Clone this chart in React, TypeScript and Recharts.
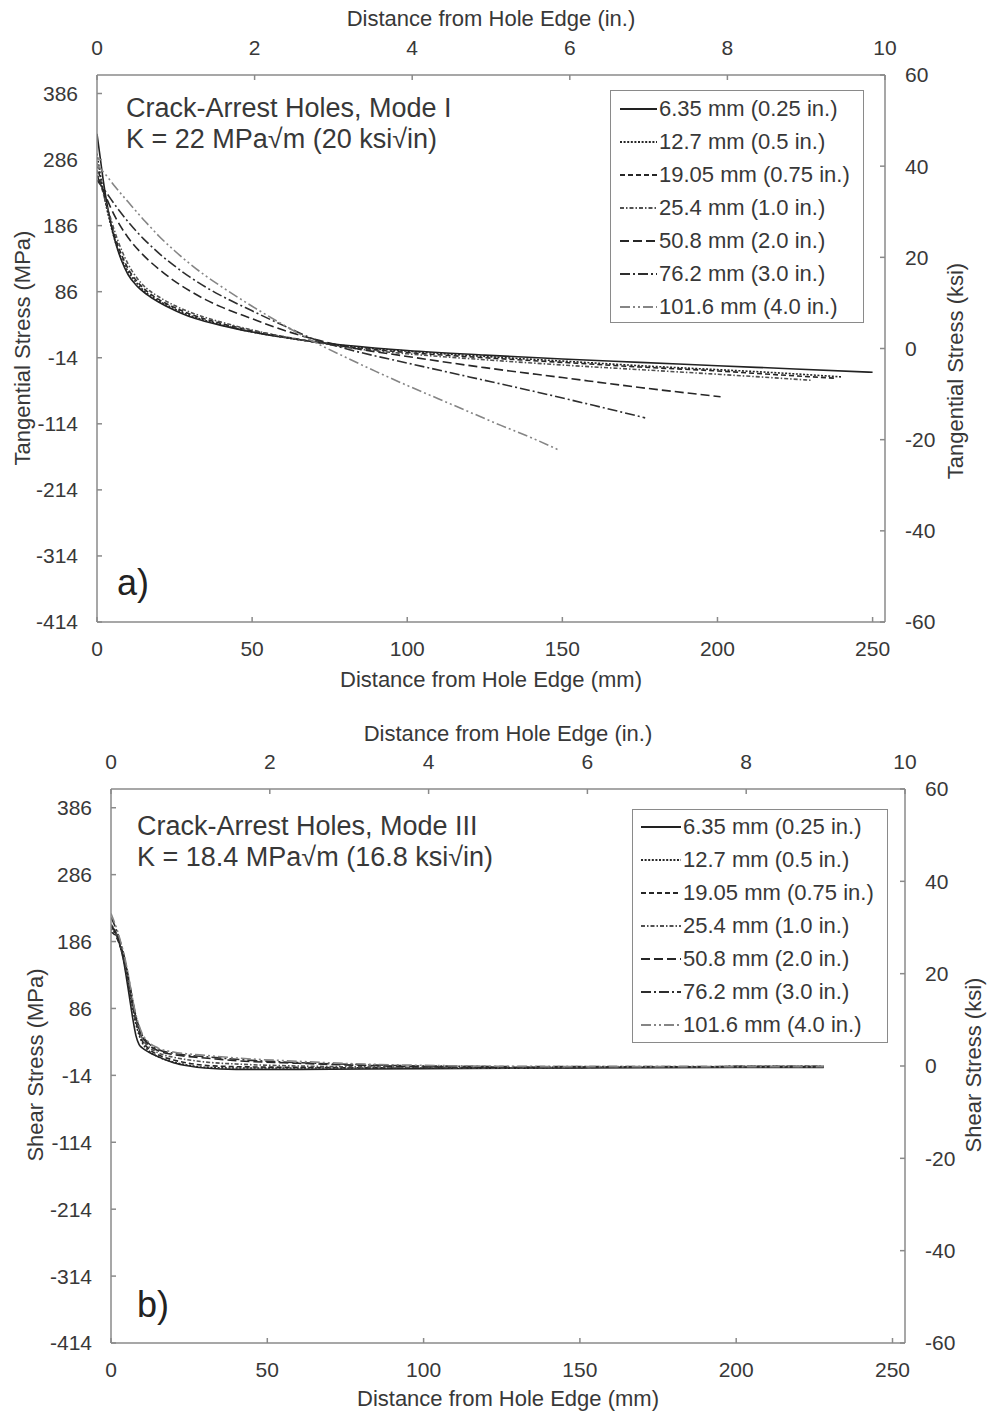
import React from 'react';
import { LineChart, Line, XAxis, YAxis, Legend, Customized } from 'recharts';

const FONT = '"Liberation Sans", Arial, Helvetica, sans-serif';
const AXIS = '#8a8a8a';
const TXT = '#383838';

// ---------- shared labels / styles ----------
const holeNames = [
  '6.35 mm (0.25 in.)',
  '12.7 mm (0.5 in.)',
  '19.05 mm (0.75 in.)',
  '25.4 mm (1.0 in.)',
  '50.8 mm (2.0 in.)',
  '76.2 mm (3.0 in.)',
  '101.6 mm (4.0 in.)',
];
const dashes = ['', '2 1.6', '5 3', '4 2 1.5 2', '9 4', '10 3 2 3', '10 3 2 3 2 3'];
const lineColors = ['#222222', '#262626', '#262626', '#505050', '#262626', '#2e2e2e', '#858585'];

const mmTicks = [0, 50, 100, 150, 200, 250];
const inTicks = [0, 2, 4, 6, 8, 10];
const mpaTicks = [-414, -314, -214, -114, -14, 86, 186, 286, 386];
const ksiTicks = [-60, -40, -20, 0, 20, 40, 60];
const MM_PER_IN = 25.4;
const MPA_PER_KSI = 6.895;

// ---------- Mode I (tangential stress, MPa vs mm) ----------
const m1x_635 = [0, 1, 2, 3, 4, 5, 6, 8, 10, 13, 16, 20, 25, 30, 35, 40, 50, 60, 70, 80, 100, 125, 150, 175, 200, 225, 250];
const m1y_635 = [325, 290, 255, 225, 200, 178, 160, 132, 112, 94, 82, 70, 58, 48, 41, 35, 25, 17, 10, 5, -3, -10, -16, -21, -26, -31, -36];
const m1x_127 = [0, 1, 2, 3, 4, 6, 8, 10, 13, 16, 20, 25, 30, 40, 50, 60, 70, 80, 100, 125, 150, 175, 200, 220, 240];
const m1y_127 = [295, 265, 240, 215, 195, 160, 135, 117, 98, 84, 72, 60, 50, 36, 25, 17, 10, 4, -4, -12, -19, -26, -32, -37, -43];
const m1x_1905 = [0, 1, 2, 3, 4, 6, 8, 10, 13, 16, 20, 25, 30, 40, 50, 60, 70, 80, 100, 125, 150, 175, 200, 220, 238];
const m1y_1905 = [280, 258, 238, 218, 200, 166, 141, 121, 101, 87, 74, 62, 52, 38, 27, 18, 10, 3, -6, -14, -21, -28, -34, -40, -45];
const m1x_254 = [0, 1, 2, 3, 4, 6, 8, 10, 13, 16, 20, 25, 30, 40, 50, 60, 70, 80, 100, 125, 150, 175, 200, 230];
const m1y_254 = [270, 252, 235, 218, 203, 173, 148, 128, 106, 91, 78, 65, 55, 40, 28, 18, 10, 2, -8, -17, -25, -32, -39, -48];
const m1x_508 = [0, 3, 6, 10, 15, 17, 20, 25, 30, 35, 40, 50, 60, 70, 80, 100, 125, 150, 175, 201];
const m1y_508 = [262, 228, 198, 168, 141, 132, 120, 102, 87, 74, 63, 45, 28, 14, 3, -12, -29, -44, -59, -73];
const m1x_762 = [0, 3, 6, 10, 15, 17, 20, 25, 30, 35, 40, 50, 60, 70, 80, 100, 120, 140, 160, 176.7];
const m1y_762 = [255, 236, 216, 192, 166, 157, 144, 125, 108, 93, 80, 57, 35, 14, 0, -22, -43, -64, -86, -105];
const m1x_1016 = [0, 3, 6, 10, 15, 17, 20, 25, 30, 35, 40, 50, 60, 70, 80, 90, 100, 110, 120, 130, 140, 149];
const m1y_1016 = [278, 262, 244, 222, 195, 185, 170, 148, 128, 110, 94, 64, 36, 10, -13, -35, -56, -76, -96, -116, -135, -154];

// ---------- Mode III (shear stress, MPa vs mm) ----------
const m3x_635 = [0, 1, 2, 3, 4, 5, 6, 7, 8, 9, 10, 12, 15, 20, 25, 30, 40, 60, 100, 150, 200, 228];
const m3y_635 = [208, 203, 193, 178, 158, 130, 100, 70, 45, 32, 27, 21, 14, 5, 0, -3, -5, -5, -4, -3, -2, -2];
const m3x_127 = [0, 1, 2, 3, 4, 5, 6, 7, 8, 9, 10, 12, 15, 20, 25, 30, 40, 60, 100, 150, 200, 228];
const m3y_127 = [205, 200, 192, 178, 160, 136, 110, 84, 62, 46, 35, 23, 14, 6, 1, -2, -3, -3, -3, -2, -1, -1];
const m3x_1905 = [0, 1, 2, 3, 4, 5, 6, 7, 8, 9, 10, 12, 15, 20, 25, 30, 40, 60, 100, 150, 200, 228];
const m3y_1905 = [200, 197, 190, 178, 162, 140, 114, 88, 66, 50, 38, 26, 17, 9, 4, 1, -1, -2, -3, -2, -1, -1];
const m3x_254 = [0, 1, 2, 3, 4, 5, 6, 7, 8, 9, 10, 12, 15, 20, 25, 30, 40, 60, 100, 130, 150, 200, 228];
const m3y_254 = [212, 205, 195, 181, 164, 142, 117, 91, 69, 53, 41, 29, 20, 13, 9, 6, 3, 0, -2, -3, -2, -1, -1];
const m3x_508 = [0, 1, 2, 3, 4, 5, 6, 7, 8, 9, 10, 12, 15, 20, 25, 30, 40, 60, 80, 100, 150, 200, 228];
const m3y_508 = [210, 204, 195, 182, 166, 145, 120, 94, 72, 56, 44, 32, 23, 17, 14, 12, 8, 4, 1, -1, -2, -1, -1];
const m3x_762 = [0, 1, 2, 3, 4, 5, 6, 7, 8, 9, 10, 12, 15, 20, 25, 30, 40, 60, 80, 100, 150, 200, 228];
const m3y_762 = [222, 212, 200, 185, 168, 147, 122, 96, 74, 58, 46, 34, 25, 19, 16, 14, 10, 5, 2, 0, -1, -1, -1];
const m3x_1016 = [0, 1, 2, 3, 4, 5, 6, 7, 8, 9, 10, 12, 15, 20, 25, 30, 40, 60, 80, 100, 150, 200, 228];
const m3y_1016 = [228, 216, 203, 187, 170, 149, 124, 98, 76, 60, 48, 36, 27, 21, 18, 16, 12, 7, 3, 1, -1, -1, -1];

type Pt = { x: number; y: number };
const pts = (xs: number[], ys: number[]): Pt[] => xs.map((x, i) => ({ x, y: ys[i] }));

const modeISeries: Pt[][] = [
  pts(m1x_635, m1y_635),
  pts(m1x_127, m1y_127),
  pts(m1x_1905, m1y_1905),
  pts(m1x_254, m1y_254),
  pts(m1x_508, m1y_508),
  pts(m1x_762, m1y_762),
  pts(m1x_1016, m1y_1016),
];
const modeIIISeries: Pt[][] = [
  pts(m3x_635, m3y_635),
  pts(m3x_127, m3y_127),
  pts(m3x_1905, m3y_1905),
  pts(m3x_254, m3y_254),
  pts(m3x_508, m3y_508),
  pts(m3x_762, m3y_762),
  pts(m3x_1016, m3y_1016),
];

// same curve in inch / ksi units, used only to drive the secondary (top / right) axes
const toImperial = (s: Pt[]): Pt[] => s.map((p) => ({ x: p.x / MM_PER_IN, y: p.y / MPA_PER_KSI }));

interface PanelCfg {
  top: number;
  height: number;
  topAxisH: number;
  bottomAxisH: number;
  leftW: number;
  rightW: number;
  series: Pt[][];
  yTitle: string;
  yTitleRight: string;
  leftTitle: [number, number];
  rightTitle: [number, number];
  topTitleOffset: number;
  bottomTitleOffset: number;
  annot: [string, string];
  annotX: number;
  annotY: [number, number];
  letter: string;
  letterPos: [number, number];
  legend: { left: number; top: number; width: number; height: number; padTop: number; padLeft: number; rowH: number; sampleW: number };
}

const tickStyle = { fill: TXT, fontSize: 21, fontFamily: FONT };

const vTitle = (value: string, cx: number, cy: number) => () => (
  <text
    x={cx}
    y={cy}
    transform={`rotate(-90 ${cx} ${cy})`}
    textAnchor="middle"
    dominantBaseline="central"
    fill={TXT}
    fontSize={22}
    fontFamily={FONT}
  >
    {value}
  </text>
);

function Panel(cfg: PanelCfg) {
  const W = 987;
  const lg = cfg.legend;
  const renderLegend = () => (
    <div
      style={{
        width: lg.width,
        height: lg.height,
        boxSizing: 'border-box',
        border: `1.5px solid ${AXIS}`,
        background: '#fff',
        paddingTop: lg.padTop,
        paddingLeft: lg.padLeft,
        fontFamily: FONT,
      }}
    >
      {holeNames.map((name, k) => (
        <div key={name} style={{ display: 'flex', alignItems: 'center', height: lg.rowH }}>
          <svg width={lg.sampleW} height={10} style={{ display: 'block' }}>
            <line
              x1={0}
              y1={5}
              x2={lg.sampleW}
              y2={5}
              stroke={lineColors[k]}
              strokeWidth={1.8}
              strokeDasharray={dashes[k] || undefined}
            />
          </svg>
          <span style={{ fontSize: 22, color: TXT, marginLeft: 2, whiteSpace: 'nowrap' }}>{name}</span>
        </div>
      ))}
    </div>
  );

  const Annot = () => (
    <g fontFamily={FONT} fill={TXT}>
      <text x={cfg.annotX} y={cfg.annotY[0]} fontSize={27}>
        {cfg.annot[0]}
      </text>
      <text x={cfg.annotX} y={cfg.annotY[1]} fontSize={27}>
        {cfg.annot[1]}
      </text>
      <text x={cfg.letterPos[0]} y={cfg.letterPos[1]} fontSize={36} fill="#222">
        {cfg.letter}
      </text>
    </g>
  );

  const axisLineStyle = { stroke: AXIS, strokeWidth: 1.5 };

  return (
    <div style={{ position: 'absolute', left: 0, top: cfg.top, width: W, height: cfg.height }}>
      <LineChart width={W} height={cfg.height} margin={{ top: 0, right: 0, bottom: 0, left: 0 }} style={{ fontFamily: FONT }}>
        <XAxis
          xAxisId="mm"
          dataKey="x"
          type="number"
          orientation="bottom"
          domain={[0, 254]}
          ticks={mmTicks}
          interval={0}
          height={cfg.bottomAxisH}
          tickSize={-5}
          tickMargin={24.5}
          tick={tickStyle}
          axisLine={axisLineStyle}
          tickLine={axisLineStyle}
          allowDataOverflow
          label={{
            value: 'Distance from Hole Edge (mm)',
            position: 'insideBottom',
            offset: cfg.bottomTitleOffset,
            fill: TXT,
            fontSize: 22,
            fontFamily: FONT,
          }}
        />
        <XAxis
          xAxisId="in"
          dataKey="x"
          type="number"
          orientation="top"
          domain={[0, 10]}
          ticks={inTicks}
          interval={0}
          height={cfg.topAxisH}
          tickSize={-5}
          tickMargin={25.5}
          tick={tickStyle}
          axisLine={axisLineStyle}
          tickLine={axisLineStyle}
          allowDataOverflow
          label={{
            value: 'Distance from Hole Edge (in.)',
            position: 'insideTop',
            offset: cfg.topTitleOffset,
            fill: TXT,
            fontSize: 22,
            fontFamily: FONT,
          }}
        />
        <YAxis
          yAxisId="mpa"
          type="number"
          orientation="left"
          domain={[-414, 414]}
          ticks={mpaTicks}
          interval={0}
          width={cfg.leftW}
          tickSize={-5}
          tickMargin={24}
          tick={tickStyle}
          axisLine={axisLineStyle}
          tickLine={axisLineStyle}
          allowDataOverflow
          label={{ content: vTitle(cfg.yTitle, cfg.leftTitle[0], cfg.leftTitle[1]) } as any}
        />
        <YAxis
          yAxisId="ksi"
          type="number"
          orientation="right"
          domain={[-60, 60]}
          ticks={ksiTicks}
          interval={0}
          width={cfg.rightW}
          tickSize={-5}
          tickMargin={25}
          tick={tickStyle}
          axisLine={axisLineStyle}
          tickLine={axisLineStyle}
          allowDataOverflow
          label={{ content: vTitle(cfg.yTitleRight, cfg.rightTitle[0], cfg.rightTitle[1]) } as any}
        />
        {/* imperial-unit copy of the first curve: invisible, it drives the in./ksi axes */}
        <Line
          data={toImperial(cfg.series[0])}
          dataKey="y"
          xAxisId="in"
          yAxisId="ksi"
          type="monotone"
          stroke="none"
          strokeOpacity={0}
          dot={false}
          activeDot={false}
          legendType="none"
          isAnimationActive={false}
        />
        {cfg.series.map((data, i) => (
          <Line
            key={holeNames[i]}
            name={holeNames[i]}
            data={data}
            dataKey="y"
            xAxisId="mm"
            yAxisId="mpa"
            type="monotone"
            stroke={lineColors[i]}
            strokeWidth={1.6}
            strokeDasharray={dashes[i] || undefined}
            dot={false}
            activeDot={false}
            isAnimationActive={false}
          />
        ))}
        <Legend
          layout="horizontal"
          verticalAlign="middle"
          align="center"
          content={renderLegend}
          wrapperStyle={{ left: lg.left, top: lg.top, width: lg.width, height: lg.height, margin: 0 }}
        />
        <Customized component={Annot} />
      </LineChart>
    </div>
  );
}

export default function App() {
  return (
    <div style={{ position: 'absolute', left: 0, top: 0, width: 987, height: 1414, background: '#fff' }}>
      <Panel
        top={0}
        height={700}
        topAxisH={75}
        bottomAxisH={78}
        leftW={97}
        rightW={102}
        series={modeISeries}
        yTitle="Tangential Stress (MPa)"
        yTitleRight="Tangential Stress (ksi)"
        leftTitle={[22, 348]}
        rightTitle={[955, 371]}
        topTitleOffset={10}
        bottomTitleOffset={13}
        annot={['Crack-Arrest Holes, Mode I', 'K = 22 MPa\u221Am (20 ksi\u221Ain)']}
        annotX={126}
        annotY={[117, 148]}
        letter="a)"
        letterPos={[117, 595]}
        legend={{ left: 610, top: 90, width: 254, height: 233, padTop: 1.5, padLeft: 9, rowH: 33, sampleW: 37 }}
      />
      <Panel
        top={700}
        height={714}
        topAxisH={89}
        bottomAxisH={71}
        leftW={111}
        rightW={82}
        series={modeIIISeries}
        yTitle="Shear Stress (MPa)"
        yTitleRight="Shear Stress (ksi)"
        leftTitle={[35, 365]}
        rightTitle={[973, 365]}
        topTitleOffset={25}
        bottomTitleOffset={8}
        annot={['Crack-Arrest Holes, Mode III', 'K = 18.4 MPa\u221Am (16.8 ksi\u221Ain)']}
        annotX={137}
        annotY={[135, 166]}
        letter="b)"
        letterPos={[137, 617]}
        legend={{ left: 632, top: 109, width: 256, height: 234, padTop: 0, padLeft: 8, rowH: 33, sampleW: 40 }}
      />
    </div>
  );
}
